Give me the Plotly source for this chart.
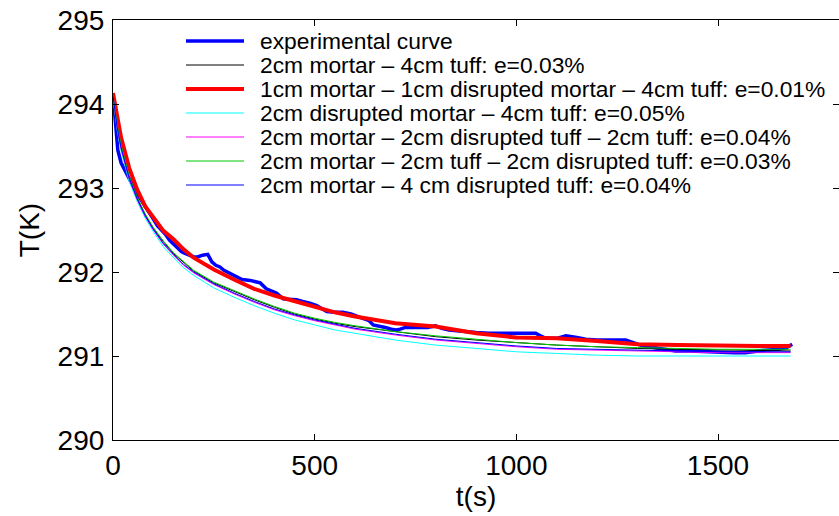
import plotly.graph_objects as go

# ---------------- data ----------------
t_model = [0, 10, 20, 40, 60, 80, 100, 125, 150, 175, 200, 250, 300, 350, 400, 450, 500,
           550, 600, 700, 800, 900, 1000, 1100, 1200, 1300, 1400, 1500, 1600, 1680]

T_black = [294.1, 293.75, 293.5, 293.13, 292.88, 292.68, 292.52, 292.36, 292.22, 292.11, 292.01,
           291.87, 291.77, 291.67, 291.58, 291.5, 291.44, 291.39, 291.35, 291.29, 291.23, 291.19,
           291.16, 291.13, 291.11, 291.09, 291.08, 291.07, 291.06, 291.06]
T_red = [294.13, 293.85, 293.6, 293.24, 292.98, 292.78, 292.65, 292.49, 292.39, 292.27, 292.17,
         292.03, 291.91, 291.8, 291.72, 291.65, 291.58, 291.52, 291.47, 291.39, 291.35, 291.27,
         291.22, 291.21, 291.18, 291.14, 291.13, 291.12, 291.12, 291.12]
T_cyan = [294.08, 293.7, 293.44, 293.08, 292.84, 292.64, 292.48, 292.3, 292.17, 292.05, 291.96,
          291.81, 291.7, 291.6, 291.51, 291.43, 291.37, 291.31, 291.27, 291.19, 291.13, 291.09,
          291.05, 291.03, 291.01, 291.0, 291.0, 291.0, 291.0, 291.0]
T_magenta = [294.1, 293.72, 293.47, 293.11, 292.86, 292.66, 292.5, 292.33, 292.2, 292.08, 291.99,
             291.85, 291.74, 291.64, 291.55, 291.48, 291.42, 291.37, 291.32, 291.25, 291.19, 291.15,
             291.11, 291.08, 291.07, 291.06, 291.05, 291.04, 291.04, 291.04]
T_green = [294.1, 293.76, 293.51, 293.14, 292.89, 292.69, 292.53, 292.37, 292.23, 292.12, 292.02,
           291.88, 291.78, 291.68, 291.59, 291.51, 291.45, 291.4, 291.36, 291.29, 291.24, 291.2,
           291.16, 291.13, 291.11, 291.1, 291.09, 291.08, 291.08, 291.08]
T_blue = [294.1, 293.73, 293.48, 293.12, 292.87, 292.67, 292.51, 292.34, 292.21, 292.09, 292.0,
          291.86, 291.75, 291.65, 291.56, 291.49, 291.43, 291.38, 291.33, 291.26, 291.2, 291.16,
          291.12, 291.09, 291.08, 291.07, 291.06, 291.05, 291.05, 291.05]

t_exp = [0, 5, 12, 20, 30, 40, 50, 60, 70, 80, 90, 100, 110, 120, 130, 140, 150, 160, 170, 180,
         190, 200, 210, 222, 235, 245, 255, 265, 275, 290, 305, 320, 340, 355, 365, 380, 395, 405,
         422, 440, 455, 470, 488, 505, 520, 530, 550, 570, 590, 605, 620, 635, 645, 660, 675, 690,
         702, 712, 725, 740, 760, 780, 800, 815, 833, 850, 870, 900, 932, 960, 990, 1020, 1048,
         1060, 1073, 1100, 1123, 1150, 1172, 1200, 1230, 1271, 1290, 1313, 1340, 1370, 1395, 1430,
         1470, 1502, 1540, 1568, 1600, 1618, 1650, 1670, 1684]
T_exp = [294.12, 293.8, 293.45, 293.3, 293.2, 293.1, 293.02, 292.93, 292.85, 292.78, 292.7, 292.63,
         292.55, 292.5, 292.45, 292.38, 292.33, 292.28, 292.24, 292.22, 292.2, 292.18, 292.18,
         292.2, 292.21, 292.12, 292.08, 292.06, 292.02, 291.98, 291.94, 291.91, 291.9, 291.88,
         291.87, 291.8, 291.77, 291.75, 291.68, 291.67, 291.67, 291.65, 291.63, 291.6, 291.56,
         291.53, 291.52, 291.52, 291.5, 291.47, 291.45, 291.42, 291.37, 291.36, 291.34, 291.32,
         291.31, 291.32, 291.34, 291.34, 291.34, 291.34, 291.36, 291.33, 291.31, 291.3, 291.29,
         291.28, 291.27, 291.27, 291.27, 291.27, 291.27, 291.24, 291.21, 291.21, 291.24, 291.22,
         291.2, 291.19, 291.19, 291.19, 291.16, 291.12, 291.1, 291.08, 291.06, 291.06, 291.05,
         291.04, 291.04, 291.04, 291.06, 291.07, 291.08, 291.1, 291.14]

labels = [
    "experimental curve",
    "2cm mortar \u2013 4cm tuff: e=0.03%",
    "1cm mortar \u2013 1cm disrupted mortar \u2013 4cm tuff: e=0.01%",
    "2cm disrupted mortar \u2013 4cm tuff: e=0.05%",
    "2cm mortar \u2013 2cm disrupted tuff \u2013 2cm tuff: e=0.04%",
    "2cm mortar \u2013 2cm tuff \u2013 2cm disrupted tuff: e=0.03%",
    "2cm mortar \u2013 4 cm disrupted tuff: e=0.04%",
]

# ---------------- styling ----------------
FONT = "Arial, Liberation Sans, sans-serif"
series = [
    (t_exp, T_exp, "#0000ff", 3.5),
    (t_model, T_black, "#000000", 1),
    (t_model, T_red, "#ff0000", 4),
    (t_model, T_cyan, "#00ffff", 1),
    (t_model, T_magenta, "#ff00ff", 1),
    (t_model, T_green, "#00c800", 1),
    (t_model, T_blue, "#0000ff", 1),
]

W, H = 839, 516
L, R, T, B = 113, 0, 20, 76
pw, ph = W - L - R, H - T - B

fig = go.Figure()
for (x, y, c, w), name in zip(series, labels):
    fig.add_trace(go.Scatter(x=x, y=y, mode="lines", name=name, showlegend=False,
                             line=dict(color=c, width=w)))

# custom legend (MATLAB-like, long line samples, no box)
row0, dy = 41, 24
for i, ((_, _, c, w), name) in enumerate(zip(series, labels)):
    py = row0 + i * dy
    yp = (H - B - py) / ph
    fig.add_shape(type="line", xref="paper", yref="paper",
                  x0=(186 - L) / pw, x1=(244 - L) / pw, y0=yp, y1=yp,
                  line=dict(color=c, width=w))
    fig.add_annotation(xref="paper", yref="paper", x=(258 - L) / pw, y=yp,
                       text=name, showarrow=False, xanchor="left", yanchor="middle",
                       font=dict(family=FONT, size=22.8, color="#000"))

axis_common = dict(showgrid=False, zeroline=False, showline=True, linecolor="#000",
                   linewidth=1.2, mirror="ticks", ticks="inside", ticklen=6,
                   tickcolor="#000", tickwidth=1,
                   tickfont=dict(family=FONT, size=28, color="#000"))
fig.update_xaxes(range=[0, 1800], tickvals=[0, 500, 1000, 1500], ticklabelstandoff=0,
                 title=dict(text="t(s)", font=dict(family=FONT, size=28, color="#000"), standoff=1),
                 **axis_common)
fig.update_yaxes(range=[290, 295], tickvals=[290, 291, 292, 293, 294, 295], ticklabelstandoff=2,
                 title=dict(text="T(K)", font=dict(family=FONT, size=28, color="#000"), standoff=9),
                 **axis_common)

fig.update_layout(width=W, height=H, margin=dict(l=L, r=R, t=T, b=B),
                  paper_bgcolor="white", plot_bgcolor="white", showlegend=False)

fig.write_html("out.html")
